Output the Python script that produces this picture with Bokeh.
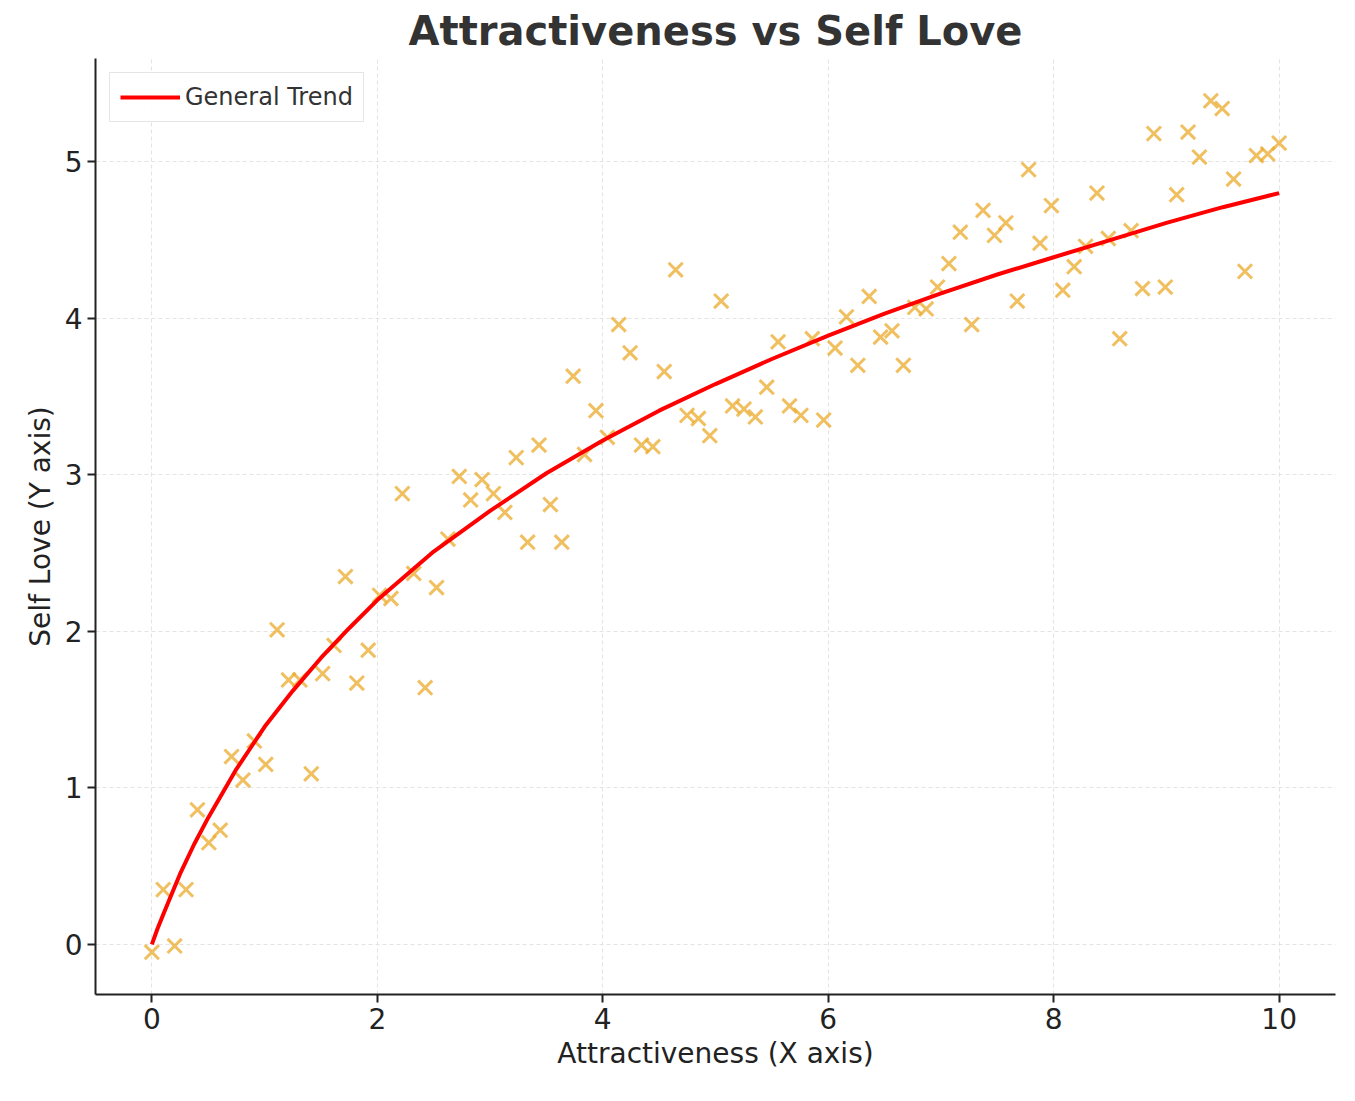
import numpy as np
from bokeh.plotting import figure
from bokeh.models import Range1d, SingleIntervalTicker, Legend, LegendItem
from bokeh.embed import file_html
from bokeh.resources import INLINE

x_vals = list(np.linspace(0, 10, 100))
y_vals = [-0.05,0.35,-0.01,0.35,0.86,0.65,0.73,1.20,1.05,1.30,
          1.15,2.01,1.69,1.69,1.09,1.73,1.91,2.35,1.67,1.88,
          2.23,2.21,2.88,2.37,1.64,2.28,2.59,2.99,2.84,2.97,
          2.88,2.76,3.11,2.57,3.19,2.81,2.57,3.63,3.13,3.41,
          3.24,3.96,3.78,3.19,3.18,3.66,4.31,3.38,3.36,3.25,
          4.11,3.44,3.42,3.37,3.56,3.85,3.44,3.38,3.87,3.35,
          3.81,4.01,3.70,4.14,3.88,3.92,3.70,4.07,4.06,4.20,
          4.35,4.55,3.96,4.69,4.53,4.61,4.11,4.95,4.48,4.72,
          4.18,4.33,4.46,4.80,4.51,3.87,4.56,4.19,5.18,4.20,
          4.79,5.19,5.03,5.39,5.34,4.89,4.30,5.04,5.05,5.12]
trend_x = [0,0.05,0.1,0.175,0.25,0.375,0.5,0.75,1,1.25,1.5,1.75,2,2.5,3,3.5,4,4.5,5,5.5,6,6.5,7,7.5,8,8.5,9,9.5,10]
trend_y = [0,0.10,0.19,0.32,0.45,0.64,0.81,1.12,1.39,1.62,1.83,2.02,2.20,2.51,2.77,3.01,3.22,3.41,3.58,3.74,3.89,4.03,4.16,4.28,4.39,4.50,4.61,4.71,4.80]

FONT = "DejaVu Sans"
p = figure(width=1347, height=1093, output_backend="svg", toolbar_location=None,
           x_range=Range1d(-0.5, 10.5), y_range=Range1d(-0.32, 5.66),
           min_border_left=95, min_border_right=12, min_border_bottom=99, min_border_top=30,
           title="Attractiveness vs Self Love")
p.title.text_font = FONT
p.title.text_font_size = "40px"
p.title.text_font_style = "bold"
p.title.text_color = "#333333"
p.title.align = "center"
p.outline_line_color = None

p.scatter(x_vals, y_vals, marker="x", size=20, line_width=3, color="#EBAA2A", alpha=0.75)
r = p.line(trend_x, trend_y, line_width=4, color="red")

p.xaxis.ticker = SingleIntervalTicker(interval=2)
p.yaxis.ticker = SingleIntervalTicker(interval=1)
for ax, lab in ((p.xaxis, "Attractiveness (X axis)"), (p.yaxis, "Self Love (Y axis)")):
    ax.axis_label = lab
    ax.axis_label_text_font = FONT
    ax.axis_label_text_font_size = "28px"
    ax.axis_label_text_font_style = "normal"
    ax.axis_label_text_color = "#222222"
    ax.major_label_text_font = FONT
    ax.major_label_text_font_size = "28px"
    ax.major_label_text_color = "#222222"
    ax.axis_line_width = 2
    ax.axis_line_color = "#222222"
    ax.major_tick_line_color = "#222222"
    ax.major_tick_line_width = 2
    ax.major_tick_out = 8
    ax.major_tick_in = 0
    ax.minor_tick_line_color = None
p.yaxis.major_label_orientation = 0
p.grid.grid_line_color = "#dddddd"
p.grid.grid_line_dash = "4 3"
p.grid.grid_line_alpha = 0.8

leg = Legend(items=[LegendItem(label="General Trend", renderers=[r])], location="top_left",
             label_text_font=FONT, label_text_font_size="24px", label_text_color="#333333",
             border_line_color="#cccccc", border_line_width=1.5, glyph_width=60,
             background_fill_alpha=0.9, margin=14, padding=10)
p.add_layout(leg)

open("out.html", "w").write(file_html(p, INLINE))
